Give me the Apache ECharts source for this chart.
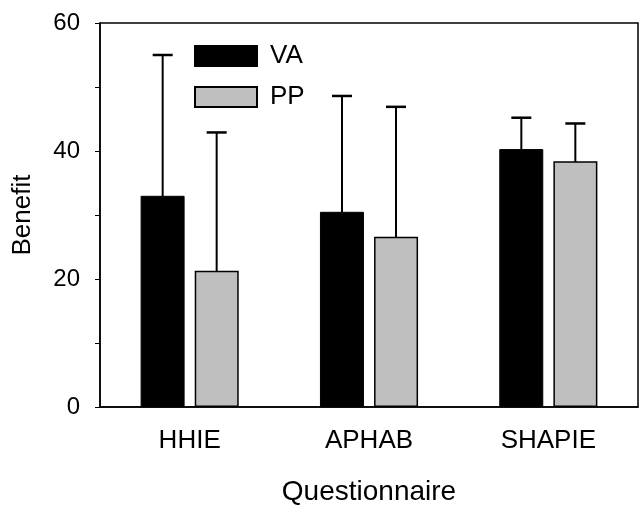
<!DOCTYPE html>
<html>
<head>
<meta charset="utf-8">
<script src="https://cdn.jsdelivr.net/npm/echarts@6/dist/echarts.min.js"></script>
<style>html,body{margin:0;padding:0;background:#fff}#c{width:639px;height:505px}</style>
</head>
<body>
<div id="c"></div>
<script>
const categories = ['HHIE', 'APHAB', 'SHAPIE'];
const vaValues = [33.0, 30.5, 40.3];
const vaErrTop = [55.0, 48.6, 45.2];
const ppValues = [21.3, 26.6, 38.4];
const ppErrTop = [42.9, 46.9, 44.3];
const yTicks = [0, 20, 40, 60];

const FONT = 'Liberation Sans, Arial, sans-serif';
const chart = echarts.init(document.getElementById('c'));

function errSeries(name, tops, offset) {
  return {
    type: 'custom',
    name: name + ' err',
    z: 1,
    silent: true,
    data: tops.map((t, i) => [i, t]),
    renderItem: function (params, api) {
      const i = api.value(0);
      const top = api.coord([i, api.value(1)]);
      const base = api.coord([i, 0]);
      const x = top[0] + offset;
      const cap = 10;
      return {
        type: 'group',
        children: [
          { type: 'line', shape: { x1: x, y1: top[1], x2: x, y2: base[1] - 2 }, style: { stroke: '#000', lineWidth: 2 } },
          { type: 'line', shape: { x1: x - cap, y1: top[1], x2: x + cap, y2: top[1] }, style: { stroke: '#000', lineWidth: 2.5 } }
        ]
      };
    }
  };
}

chart.setOption({
  animation: false,
  grid: { left: 100, right: 1, top: 23, bottom: 98, containLabel: false, outerBoundsMode: 'none',
    show: true, borderColor: '#000', borderWidth: 1.5, backgroundColor: 'transparent' },
  legend: {
    data: ['VA', 'PP'],
    orient: 'vertical',
    icon: 'rect',
    left: 189, top: 38,
    itemWidth: 62, itemHeight: 20, itemGap: 15,
    textStyle: { fontFamily: FONT, fontSize: 26, lineHeight: 20, color: '#000', padding: [0, 0, 0, 8] }
  },
  xAxis: {
    type: 'category',
    data: categories,
    name: 'Questionnaire',
    nameLocation: 'middle',
    nameGap: 71,
    nameTextStyle: { fontFamily: FONT, fontSize: 28, color: '#000' },
    axisLine: { lineStyle: { color: '#000', width: 1.5 } },
    axisTick: { alignWithLabel: true, length: 5, lineStyle: { color: '#000' } },
    axisLabel: { fontFamily: FONT, fontSize: 26, color: '#000', margin: 21 }
  },
  yAxis: {
    type: 'value',
    min: 0, max: 60, interval: 20,
    name: 'Benefit',
    nameLocation: 'middle',
    nameGap: 64,
    nameTextStyle: { fontFamily: FONT, fontSize: 26, color: '#000' },
    axisLine: { show: true, lineStyle: { color: '#000', width: 1.5 } },
    axisTick: { show: true, length: 5, lineStyle: { color: '#000' } },
    minorTick: { show: true, splitNumber: 2, length: 5, lineStyle: { color: '#000' } },
    splitLine: { show: false },
    axisLabel: { fontFamily: FONT, fontSize: 24, color: '#000', margin: 20,
      formatter: v => yTicks.includes(v) ? String(v) : '' }
  },
  series: [
    errSeries('VA', vaErrTop, -27),
    errSeries('PP', ppErrTop, 27),
    {
      name: 'VA', type: 'bar', data: vaValues, z: 3,
      barWidth: 44, barGap: '23%',
      itemStyle: { color: '#000', borderColor: '#000', borderWidth: 1 }
    },
    {
      name: 'PP', type: 'bar', data: ppValues, z: 3,
      barWidth: 44, barGap: '23%',
      itemStyle: { color: '#bfbfbf', borderColor: '#000', borderWidth: 1.5 }
    }
  ]
});
</script>
</body>
</html>
